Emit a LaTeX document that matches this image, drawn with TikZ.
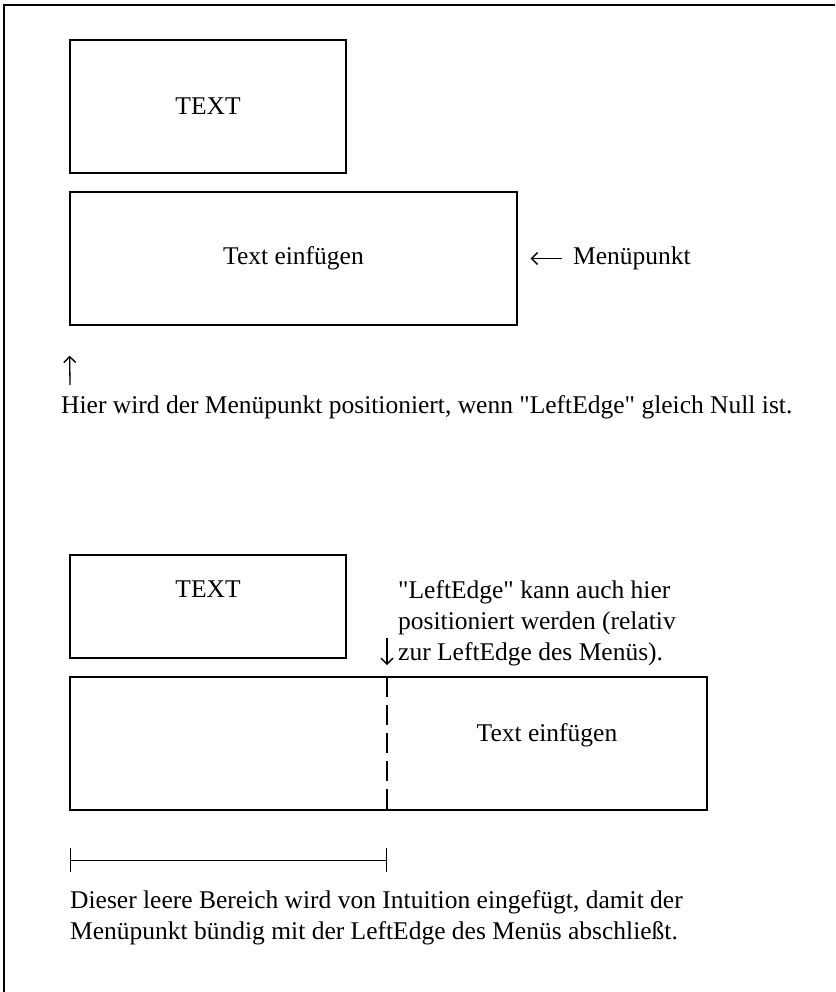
\documentclass[tikz,border=0pt]{standalone}
\usepackage{fontspec}
\setmainfont{Liberation Serif}[Ligatures=TeXOff]
\usetikzlibrary{positioning, arrows.meta}

\begin{document}
\begin{tikzpicture}[
    x=1pt, y=-1pt,
    >={Straight Barb[length=6pt,width=12pt]},
    menubox/.style={draw, line width=1.4pt, inner sep=0pt},
    txt/.style={font=\fontsize{25.5}{31}\selectfont, inner sep=0pt, align=left},
    pointer/.style={->, line width=1.3pt}
]

\useasboundingbox (0,0) rectangle (835,992);

% page frame, left and top only
\draw[line width=1.3pt] (4,992) -- (4,5) -- (835,5);

% LeftEdge = 0
\node[menubox, txt, minimum width=276pt, minimum height=133pt] (textA) at (208,106.5) {TEXT};
\node[menubox, txt, minimum width=447pt, minimum height=133pt] (itemA) at (293.5,258.5) {Text einfügen};
\node[txt, anchor=west] (menu) at (573,258.5) {Menüpunkt};
\draw[pointer, shorten <=11pt, shorten >=13pt] (menu.west) -- (itemA.east);

\coordinate (upTail) at (70,385);
\draw[pointer, shorten >=30pt] (upTail) -- (itemA.south west);
\node[txt, anchor=west] (noteA) at (61,407) {Hier wird der Menüpunkt positioniert, wenn "LeftEdge" gleich Null ist.};

% LeftEdge relative to the menu
\node[menubox, minimum width=276pt, minimum height=103pt] (textB) at (208,606.5) {};
\node[txt, below=26pt of textB.north] (textBlabel) {TEXT};
\node[txt, anchor=north west] (noteB) at (398,580) {"LeftEdge" kann auch hier\\positioniert werden (relativ\\zur LeftEdge des Menüs).};

\node[menubox, minimum width=637pt, minimum height=133pt] (itemB) at (388.5,743.5) {};
\coordinate (split) at (387,677);
\draw[line width=1.3pt, dash pattern=on 20pt off 8pt] (split) -- (split |- itemB.south);
\node[txt] (itemBlabel) at (547,735) {Text einfügen};

\coordinate (downTail) at (387,638);
\draw[pointer, shorten >=12pt] (downTail) -- (split);

\coordinate (gapL) at (70,860);
\coordinate (gapR) at (387,860);
\draw[{Bar[width=24pt]}-{Bar[width=24pt]}, line width=1pt] (gapL) -- (gapR);

\node[txt, anchor=north west] (noteC) at (70,890) {Dieser leere Bereich wird von Intuition eingefügt, damit der\\Menüpunkt bündig mit der LeftEdge des Menüs abschließt.};

\end{tikzpicture}
\end{document}
